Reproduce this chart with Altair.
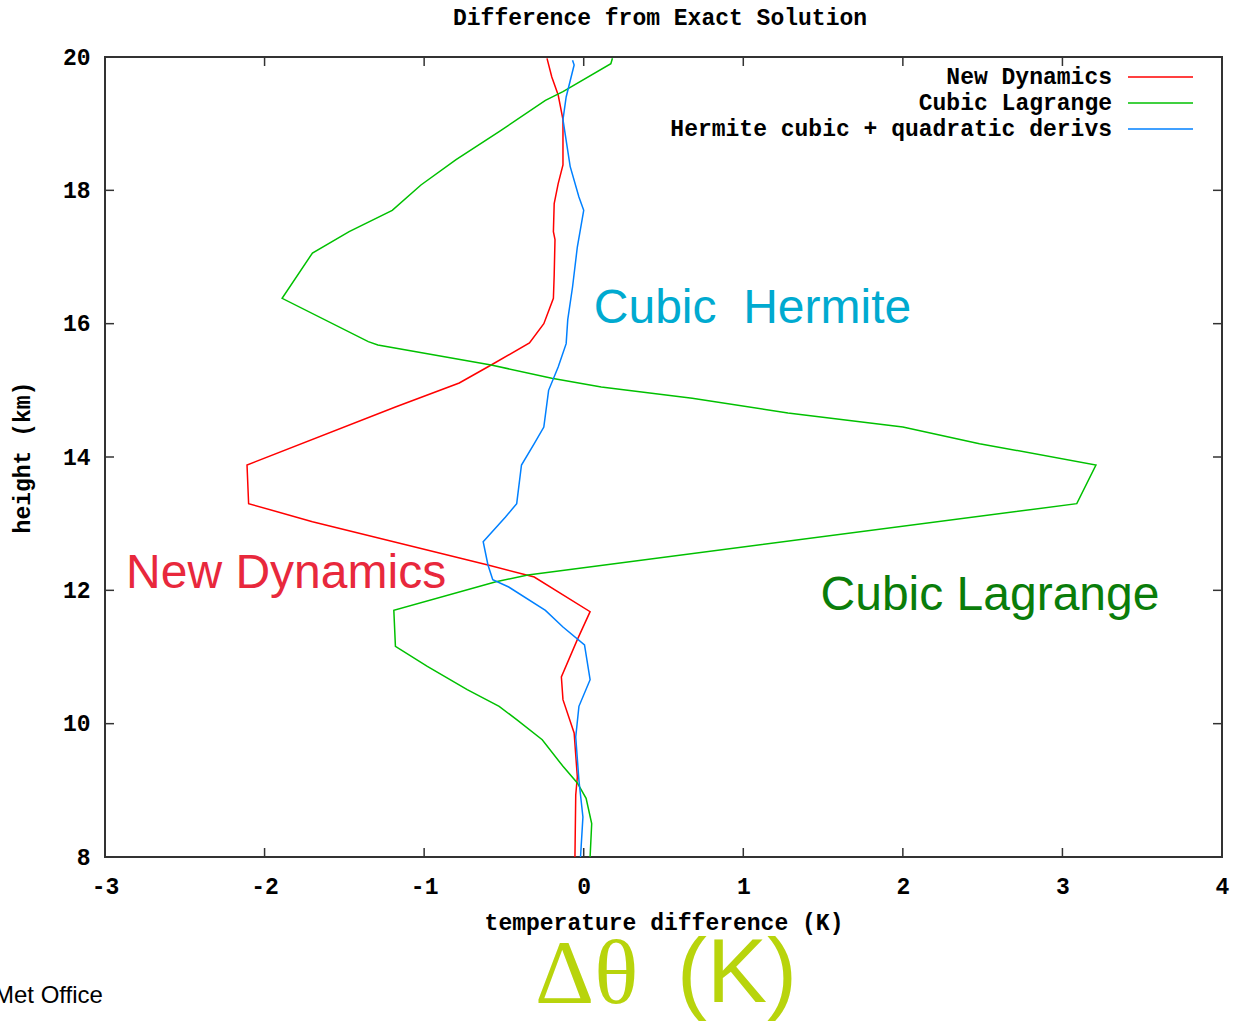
import altair as alt
import pandas as pd

# ---- series (temperature difference in K vs height in km, top to bottom) ----
series_names = ["New Dynamics", "Cubic Lagrange", "Hermite cubic + quadratic derivs"]
series_colors = ["#ff0000", "#00c000", "#0080ff"]

nd_height = [19.98, 19.70, 19.43, 19.06, 18.38, 18.10, 17.80, 17.38, 17.26, 16.73,
             16.38, 16.00, 15.71, 15.38, 15.11, 14.75, 13.88, 13.30, 13.03, 12.38,
             12.20, 11.68, 11.26, 10.70, 10.36, 9.86, 9.20, 8.93, 8.00]
nd_dtheta = [-0.23, -0.20, -0.16, -0.13, -0.13, -0.16, -0.185, -0.19, -0.18, -0.185,
             -0.19, -0.25, -0.34, -0.58, -0.78, -1.18, -2.11, -2.10, -1.70, -0.60,
             -0.31, 0.04, -0.04, -0.14, -0.13, -0.06, -0.04, -0.05, -0.055]

cl_height = [19.98, 19.90, 19.48, 19.35, 18.88, 18.46, 18.08, 17.70, 17.38, 17.06,
             16.38, 15.73, 15.68, 15.38, 15.18, 15.05, 14.88, 14.66, 14.45, 14.20,
             13.88, 13.30, 12.23, 12.13, 11.70, 11.16, 10.86, 10.51, 10.26, 10.06,
             9.76, 9.36, 9.11, 8.88, 8.50, 8.00]
cl_dtheta = [0.18, 0.17, -0.13, -0.24, -0.53, -0.80, -1.02, -1.20, -1.47, -1.70,
             -1.89, -1.35, -1.29, -0.58, -0.20, 0.11, 0.68, 1.28, 2.00, 2.48,
             3.21, 3.09, -0.35, -0.55, -1.19, -1.18, -0.98, -0.73, -0.53, -0.42,
             -0.26, -0.13, -0.04, 0.015, 0.05, 0.04]

ch_height = [19.95, 19.88, 19.40, 19.06, 18.36, 17.90, 17.70, 17.15, 16.55, 16.06,
             15.70, 15.35, 15.00, 14.45, 14.20, 13.88, 13.30, 13.10, 12.73, 12.38,
             12.16, 12.05, 11.70, 11.45, 11.18, 10.66, 10.26, 9.80, 9.15, 8.60, 8.00]
ch_dtheta = [-0.07, -0.06, -0.11, -0.13, -0.085, -0.03, 0.00, -0.04, -0.07, -0.10,
             -0.11, -0.16, -0.22, -0.25, -0.31, -0.39, -0.42, -0.49, -0.63, -0.60,
             -0.57, -0.47, -0.24, -0.13, 0.005, 0.04, -0.03, -0.05, -0.03, -0.005, -0.02]

x_ticks = [-3, -2, -1, 0, 1, 2, 3, 4]
y_ticks = [8, 10, 12, 14, 16, 18, 20]

# in-plot annotations: text, x (K), baseline height (km), colour
note_text = ["Cubic\u00a0\u00a0Hermite", "New Dynamics", "Cubic Lagrange"]
note_x = [0.063, -2.868, 1.484]
note_y = [16.01, 12.035, 11.705]
note_colors = ["#00aad0", "#e8283c", "#0a7d0a"]

# ---- layout ----
W, H = 1117, 800
MONO = "Liberation Mono"
TICK = 9

frames = []
for name, hs, ts in [(series_names[0], nd_height, nd_dtheta),
                     (series_names[1], cl_height, cl_dtheta),
                     (series_names[2], ch_height, ch_dtheta)]:
    frames.append(pd.DataFrame({"series": name, "height": hs, "dtheta": ts,
                                "seq": range(len(hs))}))
profiles = pd.concat(frames, ignore_index=True)

xscale = alt.Scale(domain=[-3, 4], nice=False, zero=False)
yscale = alt.Scale(domain=[8, 20], nice=False, zero=False)

x_axis = alt.Axis(values=x_ticks, title="temperature difference (K)",
                  labelExpr="'' + datum.value", titleY=72, labelFlush=False,
                  labelOverlap=False, titleBaseline="alphabetic", labelPadding=18)
y_axis = alt.Axis(values=y_ticks, title="height (km)",
                  labelExpr="'' + datum.value", titleX=-76, titleY=400,
                  labelFlush=False, labelOverlap=False,
                  titleAngle=270, titleBaseline="alphabetic",
                  titleAlign="center", labelPadding=15)

lines = alt.Chart(profiles).mark_line(strokeWidth=1.5, clip=True).encode(
    x=alt.X("dtheta:Q", scale=xscale, axis=x_axis),
    y=alt.Y("height:Q", scale=yscale, axis=y_axis),
    color=alt.Color("series:N", scale=alt.Scale(domain=series_names, range=series_colors),
                    legend=None),
    order=alt.Order("seq:Q"),
)

# inward ticks on all four sides of the frame
xt = pd.DataFrame({"dtheta": x_ticks})
yt = pd.DataFrame({"height": y_ticks})
tick_style = dict(color="#333333", strokeWidth=1.5)
ticks = [
    alt.Chart(xt).mark_rule(**tick_style).encode(
        x=alt.X("dtheta:Q", scale=xscale, axis=x_axis), y=alt.value(H), y2=alt.value(H - TICK)),
    alt.Chart(xt).mark_rule(**tick_style).encode(
        x=alt.X("dtheta:Q", scale=xscale, axis=x_axis), y=alt.value(0), y2=alt.value(TICK)),
    alt.Chart(yt).mark_rule(**tick_style).encode(
        y=alt.Y("height:Q", scale=yscale, axis=y_axis), x=alt.value(0), x2=alt.value(TICK)),
    alt.Chart(yt).mark_rule(**tick_style).encode(
        y=alt.Y("height:Q", scale=yscale, axis=y_axis), x=alt.value(W), x2=alt.value(W - TICK)),
]

# key in the upper right corner: label then line sample
key = []
for i, (name, col) in enumerate(zip(series_names, series_colors)):
    row = pd.DataFrame({"label": [name]})
    ky = 20 + 26 * i
    key.append(alt.Chart(row).mark_text(
        align="right", baseline="middle", font=MONO, fontSize=23, fontWeight="bold",
        color="black").encode(text="label:N", x=alt.value(1007), y=alt.value(ky)))
    key.append(alt.Chart(row).mark_rule(color=col, strokeWidth=1.5).encode(
        x=alt.value(1023), x2=alt.value(1088), y=alt.value(ky)))

notes_df = pd.DataFrame({"text": note_text, "dtheta": note_x, "height": note_y,
                         "c": note_colors})
notes = alt.Chart(notes_df).mark_text(
    align="left", baseline="alphabetic", font="Liberation Sans", fontSize=48).encode(
    x=alt.X("dtheta:Q", scale=xscale, axis=x_axis),
    y=alt.Y("height:Q", scale=yscale, axis=y_axis),
    text="text:N",
    color=alt.Color("c:N", scale=None),
)

one = pd.DataFrame({"k": [0]})
title = alt.Chart(one).mark_text(
    align="center", baseline="middle", font=MONO, fontSize=23, fontWeight="bold",
    color="black").encode(text=alt.value("Difference from Exact Solution"),
                          x=alt.value(555), y=alt.value(-39))
delta = alt.Chart(one).mark_text(
    align="left", baseline="middle", font="Liberation Serif", fontSize=92,
    color="#b8d40c").encode(text=alt.value("Δθ"), x=alt.value(430), y=alt.value(918))
kelvin = alt.Chart(one).mark_text(
    align="left", baseline="middle", font="Liberation Sans", fontSize=90,
    color="#b8d40c").encode(text=alt.value("(K)"), x=alt.value(572), y=alt.value(918))
metoffice = alt.Chart(one).mark_text(
    align="left", baseline="middle", font="Liberation Sans", fontSize=24,
    color="black").encode(text=alt.value("Met Office"), x=alt.value(-111), y=alt.value(939))

chart = alt.layer(lines, *ticks, *key, notes, title, delta, kelvin, metoffice).properties(
    width=W, height=H,
    background="white",
    autosize=alt.AutoSizeParams(type="none"),
    padding={"left": 105, "top": 57, "right": 11, "bottom": 164},
).configure_view(
    stroke="#333333", strokeWidth=2,
).configure_axis(
    domain=False, grid=False, ticks=False, tickSize=0,
    labelFont=MONO, labelFontSize=23, labelFontWeight="bold", labelColor="black",
    titleFont=MONO, titleFontSize=23, titleFontWeight="bold", titleColor="black",
)

chart.save("out.html", embed_options={"renderer": "svg", "actions": False})
